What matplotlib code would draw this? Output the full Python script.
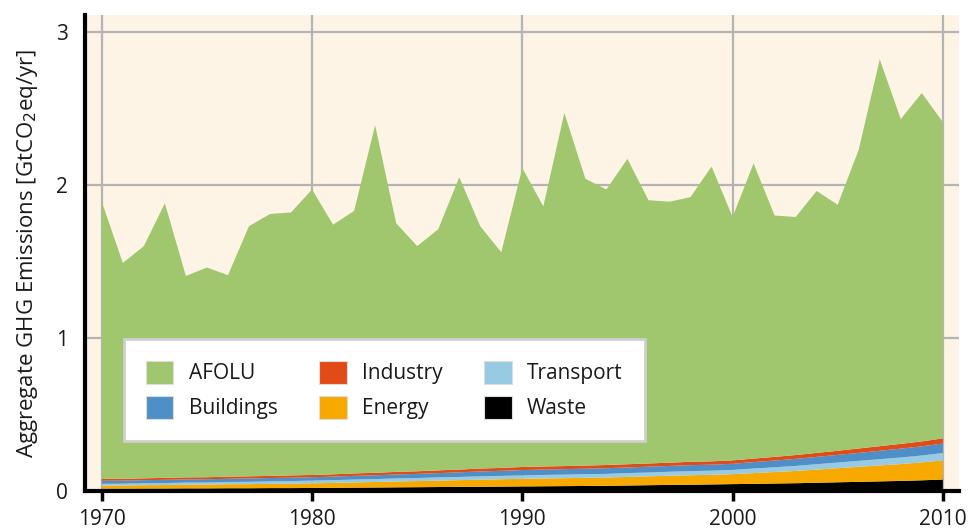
import matplotlib
matplotlib.use("Agg")
import matplotlib.pyplot as plt
import matplotlib.patches as mpatches
import numpy as np

plt.rcParams['font.family'] = ['Open Sans', 'DejaVu Sans']

years = list(range(1970, 2011))

# GtCO2eq/yr (stack order: bottom -> top)
waste = [0.015, 0.015, 0.016, 0.016, 0.017, 0.017, 0.018, 0.018, 0.019, 0.019,
         0.020, 0.021, 0.022, 0.023, 0.024, 0.025, 0.026, 0.027, 0.028, 0.029,
         0.030, 0.031, 0.032, 0.033, 0.034, 0.036, 0.038, 0.040, 0.041, 0.043,
         0.045, 0.047, 0.049, 0.051, 0.054, 0.057, 0.060, 0.063, 0.066, 0.070,
         0.075]
energy = [0.020, 0.021, 0.022, 0.023, 0.024, 0.025, 0.026, 0.027, 0.028, 0.029,
          0.030, 0.032, 0.034, 0.036, 0.038, 0.040, 0.042, 0.044, 0.046, 0.048,
          0.050, 0.051, 0.052, 0.053, 0.054, 0.056, 0.058, 0.060, 0.062, 0.063,
          0.065, 0.070, 0.075, 0.080, 0.086, 0.092, 0.098, 0.104, 0.110, 0.117,
          0.125]
transport = [0.012, 0.012, 0.013, 0.013, 0.014, 0.014, 0.015, 0.015, 0.016, 0.017,
             0.018, 0.018, 0.019, 0.019, 0.020, 0.020, 0.021, 0.021, 0.022, 0.022,
             0.022, 0.023, 0.023, 0.024, 0.024, 0.025, 0.025, 0.026, 0.027, 0.027,
             0.028, 0.030, 0.031, 0.033, 0.035, 0.037, 0.039, 0.041, 0.043, 0.045,
             0.048]
buildings = [0.020, 0.020, 0.020, 0.021, 0.021, 0.021, 0.021, 0.022, 0.022, 0.022,
             0.022, 0.023, 0.024, 0.025, 0.026, 0.027, 0.028, 0.030, 0.032, 0.033,
             0.035, 0.035, 0.036, 0.036, 0.037, 0.037, 0.038, 0.038, 0.039, 0.039,
             0.040, 0.042, 0.044, 0.046, 0.048, 0.050, 0.052, 0.055, 0.058, 0.060,
             0.062]
industry = [0.012, 0.012, 0.012, 0.013, 0.013, 0.013, 0.014, 0.014, 0.014, 0.015,
            0.015, 0.015, 0.016, 0.016, 0.017, 0.017, 0.018, 0.018, 0.019, 0.019,
            0.020, 0.020, 0.020, 0.020, 0.021, 0.021, 0.021, 0.021, 0.022, 0.022,
            0.022, 0.023, 0.024, 0.025, 0.026, 0.027, 0.029, 0.030, 0.031, 0.032,
            0.034]
afolu = [1.811, 1.410, 1.517, 1.794, 1.316, 1.370, 1.316, 1.634, 1.711, 1.718,
         1.865, 1.631, 1.715, 2.271, 1.625, 1.471, 1.575, 1.910, 1.583, 1.409,
         1.953, 1.700, 2.307, 1.874, 1.800, 1.995, 1.720, 1.705, 1.729, 1.926,
         1.590, 1.928, 1.577, 1.555, 1.711, 1.607, 1.952, 2.527, 2.122, 2.276,
         2.066]

x_ticks = [1970, 1980, 1990, 2000, 2010]
y_ticks = [0, 1, 2, 3]

colors = {
    "AFOLU": "#a0c76d",
    "Buildings": "#4f8fc8",
    "Industry": "#e04b17",
    "Energy": "#f7a900",
    "Transport": "#97cbe3",
    "Waste": "#000000",
}
text_color = "#1a1a1a"

fig = plt.figure(figsize=(9.69, 5.31), dpi=100)
ax = fig.add_axes([0.0877, 0.0753, 0.902, 0.8965])
ax.set_facecolor("#fdf4e5")

ax.stackplot(years, waste, energy, transport, buildings, industry, afolu,
             colors=[colors["Waste"], colors["Energy"], colors["Transport"],
                     colors["Buildings"], colors["Industry"], colors["AFOLU"]],
             linewidth=0, zorder=2)

ax.set_xlim(1969.2, 2010.77)
ax.set_ylim(0, 3.11)
ax.set_xticks(x_ticks)
ax.set_yticks(y_ticks)
ax.grid(True, color="#b4b4b4", linewidth=1.6, zorder=1)
ax.set_axisbelow(True)

for s in ["top", "right"]:
    ax.spines[s].set_visible(False)
for s in ["left", "bottom"]:
    ax.spines[s].set_linewidth(3)
    ax.spines[s].set_color("black")
    ax.spines[s].set_zorder(5)

ax.tick_params(axis="x", length=7, width=2.5, pad=6, labelsize=15, colors="black",
               labelcolor=text_color)
ax.tick_params(axis="y", length=0, pad=12, labelsize=15, labelcolor=text_color)

ax.set_ylabel("Aggregate GHG Emissions [GtCO$_2$eq/yr]", fontsize=16,
              color=text_color, labelpad=12)

order = ["AFOLU", "Buildings", "Industry", "Energy", "Transport", "Waste"]
handles = [mpatches.Patch(facecolor=colors[k], edgecolor="#dddddd", linewidth=0.8, label=k)
           for k in order]
leg = ax.legend(handles=handles, ncol=3, loc="lower left",
                bbox_to_anchor=(0.045, 0.105), fontsize=15, frameon=True,
                fancybox=False, framealpha=1, edgecolor="#cfcfcf",
                handlelength=1.3, handleheight=1.3, handletextpad=0.75,
                columnspacing=2.0, labelspacing=0.55, borderpad=1.05,
                borderaxespad=0)
leg.get_frame().set_linewidth(2)
leg.set_zorder(6)
for t in leg.get_texts():
    t.set_color(text_color)

fig.savefig("out.png", dpi=100)
